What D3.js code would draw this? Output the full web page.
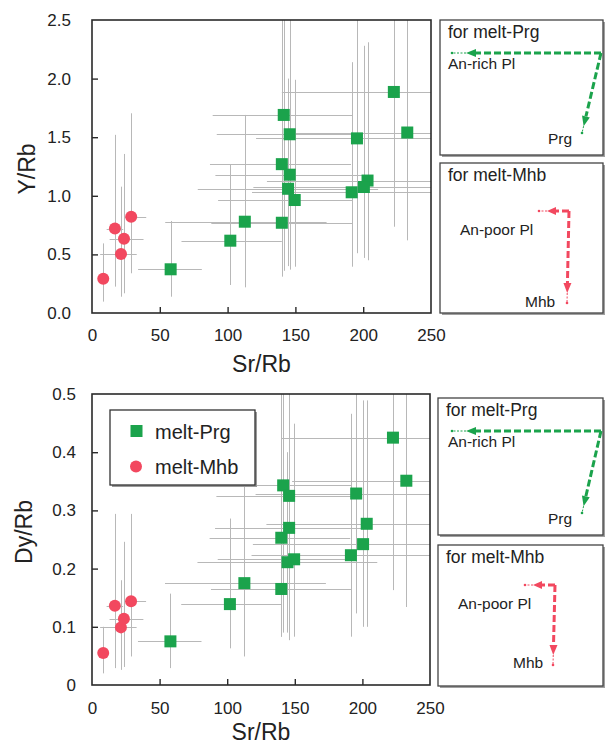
<!DOCTYPE html>
<html><head><meta charset="utf-8">
<script src="https://cdn.jsdelivr.net/npm/d3@7"></script>
<style>body{margin:0;background:#fff;}svg{display:block;font-family:"Liberation Sans",Arial,sans-serif;}</style>
</head><body><svg id="c" width="605" height="747"></svg>
<script>
// ---- data ----
const xTicks = [0, 50, 100, 150, 200, 250];
const yTicksTop = [0, 0.5, 1.0, 1.5, 2.0, 2.5];
const yTicksBot = [0, 0.1, 0.2, 0.3, 0.4, 0.5];
const seriesNames = ["melt-Prg", "melt-Mhb"];

// melt-Prg (green squares)
const prgSrRb   = [58, 102, 112.7, 140, 141.4, 140, 145.8, 145.8, 144.6, 149.5, 222.6, 232.5, 195.4, 203.2, 200.5, 191.5];
const prgSrLo   = [34, 66, 54, 88, 89, 87, 92, 91, 78, 93, 140, 148, 121, 129, 119, 118];
const prgSrHi   = [81, 140, 173, 192, 192, 191, 192, 200, 211, 192, 305, 314, 269, 277, 282, 263];
const prgYRb    = [0.373, 0.617, 0.779, 0.770, 1.690, 1.270, 1.525, 1.180, 1.060, 0.964, 1.886, 1.540, 1.490, 1.130, 1.075, 1.030];
const prgYLo    = [0.139, 0.239, 0.219, 0.31, 0.36, 0.33, 0.37, 0.42, 0.40, 0.395, 0.736, 0.62, 0.51, 0.45, 0.47, 0.395];
const prgYHi    = [0.785, 1.263, 1.69, 1.30, 2.6, 2.6, 2.6, 2.2, 2.0, 1.99, 2.6, 2.6, 2.6, 2.31, 2.28, 2.14];
const prgDyRb   = [0.075, 0.139, 0.175, 0.165, 0.343, 0.253, 0.325, 0.270, 0.211, 0.216, 0.425, 0.351, 0.329, 0.277, 0.242, 0.223];
const prgDyLo   = [0.029, 0.063, 0.049, 0.083, 0.09, 0.083, 0.077, 0.10, 0.09, 0.083, 0.163, 0.134, 0.123, 0.10, 0.10, 0.083];
const prgDyHi   = [0.157, 0.286, 0.383, 0.30, 0.52, 0.52, 0.52, 0.45, 0.40, 0.449, 0.52, 0.52, 0.52, 0.489, 0.489, 0.466];

// melt-Mhb (red circles)
const mhbSrRb   = [8.3, 16.9, 21.4, 23.6, 28.9];
const mhbSrLo   = [5, 10.8, 6, 13, 24];
const mhbSrHi   = [12, 23, 33, 38, 40];
const mhbYRb    = [0.293, 0.720, 0.503, 0.634, 0.822];
const mhbYLo    = [0.097, 0.225, 0.139, 0.168, 0.339];
const mhbYHi    = [0.594, 1.52, 1.078, 1.357, 1.704];
const mhbDyRb   = [0.055, 0.136, 0.099, 0.114, 0.144];
const mhbDyLo   = [0.02, 0.029, 0.026, 0.031, 0.049];
const mhbDyHi   = [0.10, 0.294, 0.18, 0.246, 0.294];

// ---- styles ----
const GREEN = "#1ba34c", RED = "#f2485f", ERR = "#b8b8b8", INK = "#222";
const svg = d3.select("#c");

function build(o) {
  const x = d3.scaleLinear().domain([0, 250]).range([o.left, o.right]);
  const y = d3.scaleLinear().domain([0, o.yMax]).range([o.bottom, o.top]);
  const g = svg.append("g");
  const clipId = "clip" + o.id;
  svg.append("clipPath").attr("id", clipId).append("rect")
    .attr("x", o.left).attr("y", o.top).attr("width", o.right - o.left).attr("height", o.bottom - o.top);

  const eg = g.append("g").attr("clip-path", `url(#${clipId})`)
    .attr("stroke", ERR).attr("stroke-width", 1).attr("fill", "none");
  const groups = [
    {xs: prgSrRb, xl: prgSrLo, xh: prgSrHi, ys: o.prgY, yl: o.prgLo, yh: o.prgHi},
    {xs: mhbSrRb, xl: mhbSrLo, xh: mhbSrHi, ys: o.mhbY, yl: o.mhbLo, yh: o.mhbHi}
  ];
  groups.forEach(s => {
    s.xs.forEach((xv, i) => {
      eg.append("line").attr("x1", x(s.xl[i])).attr("x2", x(s.xh[i]))
        .attr("y1", Math.round(y(s.ys[i])) + 0.5).attr("y2", Math.round(y(s.ys[i])) + 0.5);
      eg.append("line").attr("x1", Math.round(x(xv)) + 0.5).attr("x2", Math.round(x(xv)) + 0.5)
        .attr("y1", y(s.yl[i])).attr("y2", y(s.yh[i]));
    });
  });

  // frame
  g.append("rect").attr("x", o.left).attr("y", o.top)
    .attr("width", o.right - o.left).attr("height", o.bottom - o.top)
    .attr("fill", "none").attr("stroke", "#2a2a2a").attr("stroke-width", 1.6);

  // axes (inward ticks)
  const ax = g.append("g").attr("transform", `translate(0,${o.bottom})`)
    .call(d3.axisBottom(x).tickValues(xTicks).tickSizeInner(-6).tickSizeOuter(0).tickPadding(o.xPad).tickFormat(d3.format("d")));
  const ay = g.append("g").attr("transform", `translate(${o.left},0)`)
    .call(d3.axisLeft(y).tickValues(o.yTicks).tickSizeInner(-6).tickSizeOuter(0).tickPadding(o.yPad).tickFormat(o.yFmt));
  [ax, ay].forEach(a => {
    a.select(".domain").remove();
    a.selectAll("line").attr("stroke", "#2a2a2a").attr("stroke-width", 1.4);
    a.selectAll("text").attr("fill", INK).style("font-size", "17px").style("font-family", '"Liberation Sans",Arial,sans-serif');
  });
  ay.selectAll(".tick").filter(d => d === 0 || d === o.yMax).select("line").remove();
  ax.selectAll(".tick").filter(d => d === 0 || d === 250).select("line").remove();

  // titles
  g.append("text").attr("x", (o.left + o.right) / 2).attr("y", o.xTitleY)
    .attr("text-anchor", "middle").attr("fill", INK).style("font-size", "23px").text("Sr/Rb");
  g.append("text").attr("transform", `translate(${o.yTitleX},${o.yTitleY}) rotate(-90)`)
    .attr("text-anchor", "middle").attr("fill", INK).style("font-size", "23px").text(o.yTitle);

  // markers
  const mg = g.append("g");
  prgSrRb.forEach((xv, i) => {
    mg.append("rect").attr("x", x(xv) - 6).attr("y", y(o.prgY[i]) - 6)
      .attr("width", 12).attr("height", 12).attr("fill", GREEN);
  });
  mhbSrRb.forEach((xv, i) => {
    mg.append("circle").attr("cx", x(xv)).attr("cy", y(o.mhbY[i])).attr("r", 6).attr("fill", RED);
  });
}

build({id: 1, left: 92, right: 431, top: 20, bottom: 313, yMax: 2.5, yTicks: yTicksTop,
  yFmt: d3.format(".1f"), xPad: 16, yPad: 21, xTitleY: 372, yTitleX: 35, yTitleY: 169, yTitle: "Y/Rb",
  prgY: prgYRb, prgLo: prgYLo, prgHi: prgYHi, mhbY: mhbYRb, mhbLo: mhbYLo, mhbHi: mhbYHi});
build({id: 2, left: 92, right: 430, top: 394, bottom: 685, yMax: 0.5, yTicks: yTicksBot,
  yFmt: d => d === 0 ? "0" : d3.format(".1f")(d), xPad: 17, yPad: 16, xTitleY: 740, yTitleX: 32, yTitleY: 532, yTitle: "Dy/Rb",
  prgY: prgDyRb, prgLo: prgDyLo, prgHi: prgDyHi, mhbY: mhbDyRb, mhbLo: mhbDyLo, mhbHi: mhbDyHi});

// legend (bottom chart)
(function () {
  const lg = svg.append("g");
  lg.append("rect").attr("x", 112).attr("y", 412).attr("width", 145).attr("height", 75).attr("fill", "#9a9a9a");
  lg.append("rect").attr("x", 110).attr("y", 410).attr("width", 145).attr("height", 75)
    .attr("fill", "#fff").attr("stroke", "#333").attr("stroke-width", 1.3);
  lg.append("rect").attr("x", 130.5).attr("y", 425).attr("width", 12).attr("height", 12).attr("fill", GREEN);
  lg.append("circle").attr("cx", 136).attr("cy", 466.5).attr("r", 6).attr("fill", RED);
  lg.append("text").attr("x", 155).attr("y", 439).attr("fill", INK).style("font-size", "20px").text(seriesNames[0]);
  lg.append("text").attr("x", 155).attr("y", 474).attr("fill", INK).style("font-size", "20px").text(seriesNames[1]);
})();

// side panels with schematic vectors
function arrow(g, color, x0, y0, x1, y1, tail, head) {
  const dx = x1 - x0, dy = y1 - y0, L = Math.hypot(dx, dy), ux = dx / L, uy = dy / L;
  const tx = x1 - ux * tail, ty = y1 - uy * tail;          // arrow tip
  const bx = tx - ux * head, by = ty - uy * head;          // arrow base
  g.append("line").attr("x1", x0).attr("y1", y0).attr("x2", bx).attr("y2", by)
    .attr("stroke", color).attr("stroke-width", 3).attr("stroke-dasharray", "7,3");
  const px = -uy, py = ux, w = 4;
  g.append("path").attr("d", `M${tx},${ty}L${bx + px * w},${by + py * w}L${bx - px * w},${by - py * w}Z`).attr("fill", color);
  g.append("line").attr("x1", tx).attr("y1", ty).attr("x2", x1).attr("y2", y1)
    .attr("stroke", color).attr("stroke-width", 1).attr("stroke-dasharray", "2,1.5");
  g.append("circle").attr("cx", x1).attr("cy", y1).attr("r", 1.3).attr("fill", color);
}
function panel(x0, y0, x1, y1, title) {
  const g = svg.append("g");
  g.append("rect").attr("x", x0 + 2).attr("y", y0 + 2).attr("width", x1 - x0).attr("height", y1 - y0).attr("fill", "#a0a0a0");
  g.append("rect").attr("x", x0).attr("y", y0).attr("width", x1 - x0).attr("height", y1 - y0)
    .attr("fill", "#fff").attr("stroke", "#444").attr("stroke-width", 1.3);
  g.append("text").attr("x", x0 + 8).attr("y", y0 + 18).attr("fill", INK).style("font-size", "17.5px").text(title);
  return g;
}
function lbl(g, x, y, t) {
  g.append("text").attr("x", x).attr("y", y).attr("fill", INK).style("font-size", "15.5px").text(t);
}
[[20, 155, 163, 313], [398, 535, 545, 686]].forEach(([a0, a1, b0, b1], k) => {
  const left = k === 0 ? 440 : 438;
  const p1 = panel(left, a0, 603, a1, "for melt-Prg");
  const cy = a0 + 33;
  arrow(p1, GREEN, 601, cy, 452, cy, 14, 10);
  arrow(p1, GREEN, 601, cy, 582, a1 - 22, 7, 10);
  lbl(p1, 448, cy + 16, "An-rich Pl");
  lbl(p1, 548, a1 - 11, "Prg");
  const p2 = panel(left, b0, 603, b1, "for melt-Mhb");
  const hx = k === 0 ? 569 : 555, hy = b0 + (k === 0 ? 48 : 40);
  arrow(p2, RED, hx, hy, hx - 30, hy, 8, 9);
  arrow(p2, RED, hx, hy, hx - 2, b1 - (k === 0 ? 10 : 21), 10, 10);
  lbl(p2, k === 0 ? 460 : 458, hy + 24, "An-poor Pl");
  lbl(p2, k === 0 ? 525 : 513, b1 - (k === 0 ? 6 : 18), "Mhb");
});
</script></body></html>
